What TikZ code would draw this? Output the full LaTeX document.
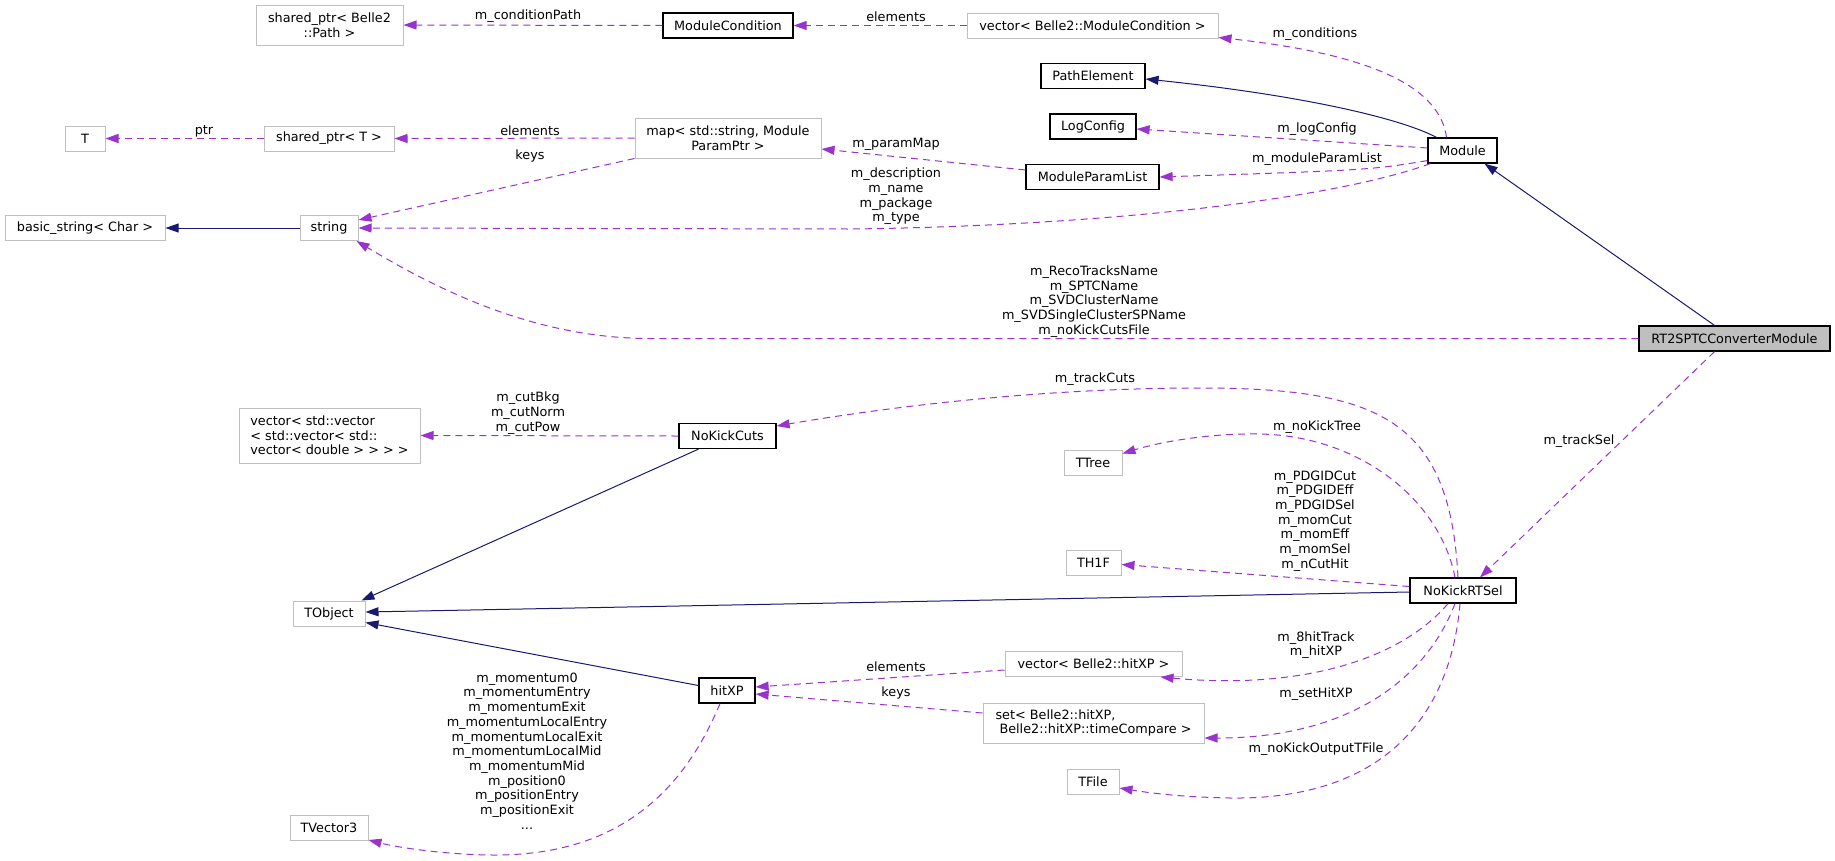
\documentclass[tikz,border=0pt]{standalone}
\usepackage{fontspec}
\setmainfont{DejaVu Sans}
\usepackage{tikz}
\usetikzlibrary{arrows.meta,calc}
\definecolor{edgepurple}{HTML}{9A32CD}
\definecolor{edgenavy}{HTML}{191970}
\definecolor{boxgrey}{HTML}{BFBFBF}

\begin{document}
\begin{tikzpicture}[x=1pt,y=-1pt,
    every node/.style={font=\fontsize{12.8}{14.7}\selectfont, inner sep=0pt},
    cls/.style={draw=boxgrey, line width=1pt, fill=white, minimum height=25pt, align=center},
    doc/.style={cls, draw=black, line width=1.2pt},
    lbl/.style={align=center},
    rel/.style={draw=edgepurple, line width=1pt, dash pattern=on 7pt off 5pt, -{Triangle[length=13pt,width=9pt]}},
    inh/.style={draw=edgenavy, line width=1pt, -{Triangle[length=13pt,width=9pt]}}]
      \useasboundingbox (0,0) rectangle (1835,860);

      \node[cls, minimum width=147pt, minimum height=40pt] (spath) at (329.5,25) {shared\_ptr< Belle2\\::Path >};
      \node[cls, minimum width=40pt] (T) at (85,138.5) {T};
      \node[cls, minimum width=130pt] (sptrT) at (329,138.5) {shared\_ptr< T >};
      \node[cls, minimum width=160pt] (bstr) at (85,228) {basic\_string< Char >};
      \node[cls, minimum width=58pt] (str) at (329,228) {string};
      \node[cls, minimum width=181pt, minimum height=55pt, align=left] (vecvec) at (329.5,435.5) {vector< std::vector\\< std::vector< std::\\vector< double > > > >};
      \node[cls, minimum width=72pt] (tobj) at (329,613.5) {TObject};
      \node[cls, minimum width=78pt] (tvec) at (329,828) {TVector3};
      \node[doc, minimum width=130pt] (modcond) at (728,25.5) {ModuleCondition};
      \node[cls, minimum width=186pt, minimum height=40pt] (map) at (728,138) {map< std::string, Module\\ParamPtr >};
      \node[doc, minimum width=97pt] (nkcuts) at (727.5,436) {NoKickCuts};
      \node[doc, minimum width=56pt] (hitxp) at (727,690.5) {hitXP};
      \node[cls, minimum width=251pt] (vecmc) at (1092.5,25.5) {vector< Belle2::ModuleCondition >};
      \node[doc, minimum width=104pt] (pathel) at (1093,76) {PathElement};
      \node[doc, minimum width=86pt] (logcfg) at (1093,126.5) {LogConfig};
      \node[doc, minimum width=133pt] (mpl) at (1092.5,177) {ModuleParamList};
      \node[cls, minimum width=58pt] (ttree) at (1093,462.5) {TTree};
      \node[cls, minimum width=55pt] (th1f) at (1093.5,562.5) {TH1F};
      \node[cls, minimum width=177pt] (vechit) at (1093.5,664) {vector< Belle2::hitXP >};
      \node[cls, minimum width=221pt, minimum height=40pt, align=left] (setcmp) at (1093.5,723) {set< Belle2::hitXP,\\\hspace*{4pt}Belle2::hitXP::timeCompare >};
      \node[cls, minimum width=52pt] (tfile) at (1093,781.5) {TFile};
      \node[doc, minimum width=69pt] (module) at (1462.5,150.5) {Module};
      \node[doc, minimum width=106pt] (nkrt) at (1463,590.5) {NoKickRTSel};
      \node[doc, fill=boxgrey, minimum width=191pt] (rt2) at (1734.5,338.5) {RT2SPTCConverterModule};

      \draw[rel] (modcond.west) -- (spath.east);
      \draw[rel] (vecmc.west) -- (modcond.east);
      \draw[rel] ($(module.north)+(-16,0)$) .. controls (1440,90) and (1380,55) .. ($(vecmc.south east)+(0,-1)$);
      \draw[inh] ($(module.north)+(-26,0)$) .. controls (1400,118) and (1300,95) .. ($(pathel.east)+(0,3)$);
      \draw[rel] ($(module.west)+(0,-2.5)$) -- ($(logcfg.east)+(0,2.5)$);
      \draw[rel] ($(module.south west)+(0,-3)$) .. controls (1370,170) .. (mpl.east);
      \draw[rel] ($(mpl.west)+(0,-7)$) -- ($(map.east)+(0,11)$);
      \draw[rel] (map.west) -- (sptrT.east);
      \draw[rel] (map.south west) -- ($(str.east)+(0,-8)$);
      \draw[rel] (sptrT.west) -- (T.east);
      \draw[inh] (str.west) -- (bstr.east);
      \draw[rel] ($(module.south west)+(3,0)$) .. controls (1330,200) and (1100,226) .. (850,229) -- (str.east);
      \draw[rel] (rt2.west) -- (650,338.5) .. controls (530,338.5) and (430,285) .. ($(str.south east)+(-2,0)$);
      \draw[inh] ($(rt2.north)+(-20,0)$) -- ($(module.south)+(22,0)$);
      \draw[rel] ($(rt2.south)+(-20,0)$) -- ($(nkrt.north)+(17,0)$);
      \draw[rel] ($(nkrt.north)+(-5,0)$) .. controls (1450,420) and (1380,388) .. (1200,388) .. controls (1050,388) and (900,405) .. ($(nkcuts.east)+(0,-10)$);
      \draw[rel] (nkcuts.west) -- (vecvec.east);
      \draw[inh] ($(nkcuts.south)+(-29,0)$) -- ($(tobj.north east)+(-4,0)$);
      \draw[rel] ($(nkrt.north)+(-8,0)$) .. controls (1440,500) and (1360,436) .. (1260,434) .. controls (1210,433) and (1160,442) .. ($(ttree.east)+(0,-9)$);
      \draw[rel] ($(nkrt.west)+(0,-4)$) -- ($(th1f.east)+(0,2)$);
      \draw[inh] ($(nkrt.west)+(0,1.5)$) -- ($(tobj.east)+(0,-1.5)$);
      \draw[rel] ($(nkrt.south)+(-15,0)$) .. controls (1400,660) and (1300,690) .. ($(vechit.south east)+(-22,0)$);
      \draw[rel] ($(nkrt.south)+(-8,0)$) .. controls (1430,670) and (1360,738) .. ($(setcmp.east)+(0,15)$);
      \draw[rel] ($(nkrt.south)+(-3,0)$) .. controls (1450,720) and (1380,800) .. (1230,798) .. controls (1180,797) and (1150,793) .. ($(tfile.east)+(0,6.5)$);
      \draw[rel] ($(vechit.west)+(0,6)$) -- ($(hitxp.east)+(0,-3.5)$);
      \draw[rel] ($(setcmp.west)+(0,-10)$) -- ($(hitxp.east)+(0,3.5)$);
      \draw[inh] ($(hitxp.west)+(0,-5)$) -- ($(tobj.south east)+(0,-4)$);
      \draw[rel] ($(hitxp.south)+(-7,0)$) .. controls (680,800) and (610,855) .. (495,855) .. controls (450,855) and (400,848) .. ($(tvec.east)+(0,12)$);

      \node[lbl] (lcondpath) at (528,16) {m\_conditionPath};
      \node[lbl] (lelemmc) at (896,17) {elements};
      \node[lbl] (lconds) at (1315,34) {m\_conditions};
      \node[lbl] (lptr) at (204,131) {ptr};
      \node[lbl] (lelemmap) at (530,131) {elements};
      \node[lbl] (lkeysmap) at (530,156) {keys};
      \node[lbl] (lparammap) at (896,144) {m\_paramMap};
      \node[lbl] (llogcfg) at (1317,129) {m\_logConfig};
      \node[lbl] (lmpl) at (1317,159) {m\_moduleParamList};
      \node[lbl] (ldescr) at (896,196.5) {m\_description\\m\_name\\m\_package\\m\_type};
      \node[lbl] (lnames) at (1094,301.5) {m\_RecoTracksName\\m\_SPTCName\\m\_SVDClusterName\\m\_SVDSingleClusterSPName\\m\_noKickCutsFile};
      \node[lbl] (ltrackcuts) at (1095,379) {m\_trackCuts};
      \node[lbl] (lnktree) at (1317,427) {m\_noKickTree};
      \node[lbl] (lpdg) at (1315,521) {m\_PDGIDCut\\m\_PDGIDEff\\m\_PDGIDSel\\m\_momCut\\m\_momEff\\m\_momSel\\m\_nCutHit};
      \node[lbl] (ltracksel) at (1579,441) {m\_trackSel};
      \node[lbl] (lcuts) at (528,413) {m\_cutBkg\\m\_cutNorm\\m\_cutPow};
      \node[lbl] (lhits) at (1316,645) {m\_8hitTrack\\m\_hitXP};
      \node[lbl] (lsethit) at (1316,694) {m\_setHitXP};
      \node[lbl] (loutfile) at (1316,749) {m\_noKickOutputTFile};
      \node[lbl] (lelemhit) at (896,667) {elements};
      \node[lbl] (lkeyshit) at (896,693) {keys};
      \node[lbl] (lmom) at (527,751) {m\_momentum0\\m\_momentumEntry\\m\_momentumExit\\m\_momentumLocalEntry\\m\_momentumLocalExit\\m\_momentumLocalMid\\m\_momentumMid\\m\_position0\\m\_positionEntry\\m\_positionExit\\...};
    \end{tikzpicture}
\end{document}
